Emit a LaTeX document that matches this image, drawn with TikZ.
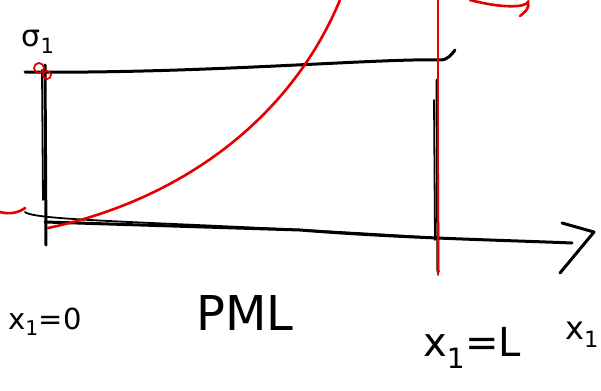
\documentclass[tikz,border=0pt]{standalone}
\usepackage{fontspec}
\setmainfont{DejaVu Sans}
\usetikzlibrary{arrows.meta}
\newcommand{\subone}{\textsubscript{1}}
\begin{document}
\begin{tikzpicture}[x=1pt,y=-1pt,
  ink/.style={black,line width=3pt,line cap=round,line join=round},
  redink/.style={red!90!black,line width=2.6pt,line cap=round},
  lbl/.style={inner sep=0pt}]
\useasboundingbox (0,0) rectangle (601,390);
% corners
\coordinate (tl) at (25,72);
\coordinate (tr) at (455,50);
\coordinate (bl) at (25,212);
\coordinate (ax0) at (45,222);
\coordinate (axe) at (572,243);
\coordinate (tip) at (594,232);
% box lines
\draw[ink] (tl) .. controls (200,74) and (380,58) .. (440,60) .. controls (448,60) and (452,54) .. (tr);
\draw[ink] (45,65) -- (46,245);
\draw[ink,line width=1.8pt] (42,70) -- (43,200);
\draw[ink,line width=1.8pt] (bl) .. controls (35,222) and (200,222) .. (437,238);
\draw[ink] (ax0) -- (300,230) .. controls (400,238) and (500,240) .. (axe);
\draw[ink] (562,223) -- (tip) -- (560,273);
\draw[ink] (437,80) -- (438,272);
\draw[ink,line width=1.8pt] (434,100) -- (435,240);
% red
\draw[redink,line width=1.6pt] (438,0) -- (438,275);
\draw[redink] (48,228) .. controls (180,200) and (290,120) .. (340,0);
\draw[redink] (0,212) .. controls (10,215) and (20,212) .. (25,208);
\draw[redink] (470,0) .. controls (500,8) and (525,8) .. (528,2) .. controls (530,8) and (525,12) .. (520,16);
\draw[redink,line width=1.8pt] (39,68) circle (5);
\draw[redink,line width=1.8pt] (47,75) circle (4);
% labels
\node[lbl,font=\fontsize{30}{34}\selectfont] (sig) at (38,42) {σ\subone};
\node[lbl,font=\fontsize{29}{34}\selectfont] (x0) at (45,322) {x\subone=0};
\node[lbl,font=\fontsize{48}{56}\selectfont] (pml) at (245,313) {PML};
\node[lbl,font=\fontsize{40}{48}\selectfont] (xL) at (472,348) {x\subone=L};
\node[lbl,font=\fontsize{32}{38}\selectfont] (x1) at (582,335) {x\subone};
\end{tikzpicture}
\end{document}
